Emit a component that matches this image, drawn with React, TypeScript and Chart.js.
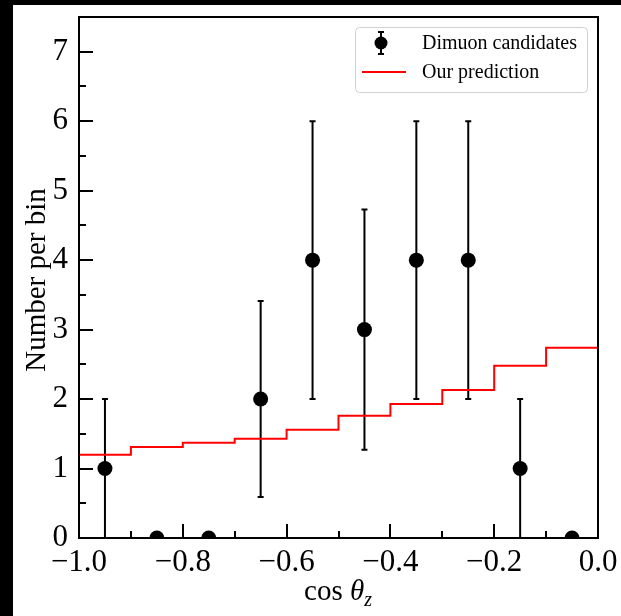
import React, { useEffect, useRef } from 'react';
import { Chart, registerables } from 'chart.js';

Chart.register(...registerables);

// ---- data ----
const binEdges = [-1.0, -0.9, -0.8, -0.7, -0.6, -0.5, -0.4, -0.3, -0.2, -0.1, 0.0];
const binCenters = [-0.95, -0.85, -0.75, -0.65, -0.55, -0.45, -0.35, -0.25, -0.15, -0.05];
const counts = [1, 0, 0, 2, 4, 3, 4, 4, 1, 0];
const errLow = [1, 0, 0, 1.41, 2, 1.73, 2, 2, 1, 0];
const errHigh = [1, 0, 0, 1.41, 2, 1.73, 2, 2, 1, 0];
const prediction = [1.2, 1.31, 1.37, 1.43, 1.56, 1.76, 1.93, 2.13, 2.48, 2.74];
const xMajorTicks = [-1.0, -0.8, -0.6, -0.4, -0.2, 0.0];
const xMinorTicks = [-0.9, -0.7, -0.5, -0.3, -0.1];
const yMajorTicks = [0, 1, 2, 3, 4, 5, 6, 7];
const yMinorTicks = [0.5, 1.5, 2.5, 3.5, 4.5, 5.5, 6.5];
const seriesLabels = ['Dimuon candidates', 'Our prediction'];
const xTitle = ['cos ', 'θ', 'z'];
const yTitle = 'Number per bin';

const FONT = "'Liberation Serif', 'Times New Roman', Times, serif";

const fmtX = (v: number) => {
  const r = Math.round(v * 10) / 10;
  if (Math.abs(r) < 1e-9) return '0.0';
  return (r < 0 ? '\u2212' : '') + Math.abs(r).toFixed(1);
};

const decorPlugin = {
  id: 'decor',
  beforeDatasetsDraw(chart: any) {
    const { ctx, chartArea: a, scales } = chart;
    const xs = scales.x, ys = scales.y;
    ctx.save();
    ctx.beginPath();
    ctx.rect(a.left, a.top, a.right - a.left, a.bottom - a.top);
    ctx.clip();
    ctx.strokeStyle = '#000';
    ctx.lineWidth = 2;
    for (let i = 0; i < counts.length; i++) {
      if (errHigh[i] <= 0 && errLow[i] <= 0) continue;
      const px = xs.getPixelForValue(binCenters[i]);
      const top = ys.getPixelForValue(counts[i] + errHigh[i]);
      const bot = ys.getPixelForValue(counts[i] - errLow[i]);
      ctx.beginPath();
      ctx.moveTo(px, top);
      ctx.lineTo(px, bot);
      ctx.moveTo(px - 3, top);
      ctx.lineTo(px + 3, top);
      ctx.moveTo(px - 3, bot);
      ctx.lineTo(px + 3, bot);
      ctx.stroke();
    }
    ctx.restore();
  },
  afterDatasetsDraw(chart: any) {
    const { ctx, chartArea: a, scales } = chart;
    const xs = scales.x, ys = scales.y;
    ctx.save();
    ctx.strokeStyle = '#000';
    ctx.lineWidth = 2;
    // ticks (inward)
    ctx.beginPath();
    xMajorTicks.forEach(v => {
      const p = Math.round(xs.getPixelForValue(v));
      ctx.moveTo(p, a.bottom);
      ctx.lineTo(p, a.bottom - 14);
    });
    xMinorTicks.forEach(v => {
      const p = Math.round(xs.getPixelForValue(v));
      ctx.moveTo(p, a.bottom);
      ctx.lineTo(p, a.bottom - 7);
    });
    yMajorTicks.forEach(v => {
      const p = Math.round(ys.getPixelForValue(v));
      ctx.moveTo(a.left, p);
      ctx.lineTo(a.left + 14, p);
    });
    yMinorTicks.forEach(v => {
      const p = Math.round(ys.getPixelForValue(v));
      ctx.moveTo(a.left, p);
      ctx.lineTo(a.left + 7, p);
    });
    ctx.stroke();
    // frame
    ctx.strokeRect(a.left, a.top, a.right - a.left, a.bottom - a.top);

    // legend
    const lx = 342, ly = 22, lw = 232, lh = 65;
    ctx.beginPath();
    (ctx as any).roundRect(lx + 0.5, ly + 0.5, lw, lh, 4);
    ctx.fillStyle = 'rgba(255,255,255,0.8)';
    ctx.fill();
    ctx.strokeStyle = '#d0d0d0';
    ctx.lineWidth = 1;
    ctx.stroke();

    // row 1: errorbar marker
    const mx = 368, r1 = 38, r2 = 67;
    ctx.strokeStyle = '#000';
    ctx.lineWidth = 2;
    ctx.beginPath();
    ctx.moveTo(mx, r1 - 11);
    ctx.lineTo(mx, r1 + 11);
    ctx.moveTo(mx - 3, r1 - 11);
    ctx.lineTo(mx + 3, r1 - 11);
    ctx.moveTo(mx - 3, r1 + 11);
    ctx.lineTo(mx + 3, r1 + 11);
    ctx.stroke();
    ctx.beginPath();
    ctx.arc(mx, r1, 6.5, 0, Math.PI * 2);
    ctx.fillStyle = '#000';
    ctx.fill();
    // row 2: red line
    ctx.strokeStyle = '#ff0000';
    ctx.lineWidth = 2;
    ctx.beginPath();
    ctx.moveTo(349, r2);
    ctx.lineTo(393, r2);
    ctx.stroke();

    ctx.fillStyle = '#000';
    ctx.font = `20px ${FONT}`;
    ctx.textAlign = 'left';
    ctx.textBaseline = 'middle';
    ctx.fillText(seriesLabels[0], 409, r1 + 1);
    ctx.fillText(seriesLabels[1], 409, r2 + 1);
    ctx.restore();
  },
  afterDraw(chart: any) {
    const { ctx } = chart;
    ctx.save();
    ctx.fillStyle = '#000';
    // y title
    ctx.translate(24, 275);
    ctx.rotate(-Math.PI / 2);
    ctx.font = `29px ${FONT}`;
    ctx.textAlign = 'center';
    ctx.textBaseline = 'middle';
    ctx.fillText(yTitle, 0, 0);
    ctx.restore();

    // x title
    ctx.save();
    ctx.fillStyle = '#000';
    ctx.textBaseline = 'alphabetic';
    ctx.textAlign = 'left';
    const f1 = `29px ${FONT}`;
    const f2 = `italic 29px ${FONT}`;
    const f3 = `italic 20px ${FONT}`;
    ctx.font = f1;
    const w1 = ctx.measureText(xTitle[0]).width;
    ctx.font = f2;
    const w2 = ctx.measureText(xTitle[1]).width;
    ctx.font = f3;
    const w3 = ctx.measureText(xTitle[2]).width;
    const total = w1 + w2 + w3;
    let x = 325 - total / 2;
    const base = 595;
    ctx.font = f1;
    ctx.fillText(xTitle[0], x, base);
    x += w1;
    ctx.font = f2;
    ctx.fillText(xTitle[1], x, base);
    x += w2;
    ctx.font = f3;
    ctx.fillText(xTitle[2], x, base + 6);
    ctx.restore();
  },
};

export default function App() {
  const ref = useRef<HTMLCanvasElement | null>(null);
  useEffect(() => {
    if (!ref.current) return;
    // stepped 'before': segment from edge i to edge i+1 is drawn at the y of point i
    const predData = binEdges.map((x, i) => ({ x, y: prediction[Math.min(i, prediction.length - 1)] }));
    const chart = new Chart(ref.current, {
      type: 'scatter',
      data: {
        datasets: [
          {
            label: seriesLabels[0],
            data: binCenters.map((x, i) => ({ x, y: counts[i] })),
            pointRadius: 7.5,
            pointBackgroundColor: '#000',
            pointBorderColor: '#000',
            pointBorderWidth: 0,
            showLine: false,
            clip: 0,
            order: 0,
          } as any,
          {
            type: 'line',
            label: seriesLabels[1],
            data: predData,
            stepped: 'before',
            borderColor: '#ff0000',
            borderWidth: 2,
            pointRadius: 0,
            fill: false,
            clip: 0,
            order: 1,
          } as any,
        ],
      },
      options: {
        animation: false,
        responsive: false,
        devicePixelRatio: 1,
        events: [],
        layout: { padding: { top: 12, left: 0, right: 23, bottom: 0 } },
        plugins: { legend: { display: false }, tooltip: { enabled: false } },
        scales: {
          x: {
            type: 'linear',
            min: -1,
            max: 0,
            grid: { display: false, drawTicks: false },
            border: { display: false },
            ticks: {
              stepSize: 0.2,
              autoSkip: false,
              maxRotation: 0,
              padding: 6,
              color: '#000',
              font: { family: FONT, size: 31 },
              callback: (v: any) => fmtX(Number(v)),
            },
            afterFit: (s: any) => {
              s.height = 78;
              s.paddingLeft = 0;
              s.paddingRight = 0;
            },
          },
          y: {
            type: 'linear',
            min: 0,
            max: 7.5,
            grid: { display: false, drawTicks: false },
            border: { display: false },
            ticks: {
              stepSize: 1,
              includeBounds: false,
              padding: 11,
              color: '#000',
              font: { family: FONT, size: 31 },
              callback: (v: any) => (Number.isInteger(Number(v)) ? String(v) : null),
            },
            afterFit: (s: any) => {
              s.width = 66;
              s.paddingTop = 0;
              s.paddingBottom = 0;
            },
          },
        },
      } as any,
      plugins: [decorPlugin],
    });
    return () => chart.destroy();
  }, []);

  return (
    <div style={{ position: 'fixed', left: 0, top: 0, width: 621, height: 616, background: '#000' }}>
      <div style={{ position: 'absolute', left: 13, top: 5, width: 608, height: 611, background: '#fff' }}>
        <canvas ref={ref} width={608} height={611} style={{ display: 'block', width: 608, height: 611 }} />
      </div>
    </div>
  );
}
